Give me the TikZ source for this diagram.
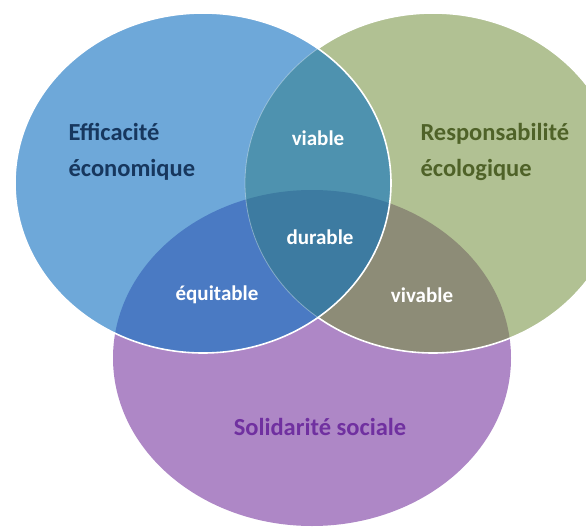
\documentclass[tikz,border=0pt]{standalone}
\usepackage{fontspec}
\setmainfont{Carlito}
\usepackage{tikz}
\usetikzlibrary{positioning}

\definecolor{ecoblue}{HTML}{6EA8D9}
\definecolor{ecogreen}{HTML}{B1C193}
\definecolor{socpurple}{HTML}{AE87C6}
\definecolor{viablecol}{HTML}{4E92AF}
\definecolor{durablecol}{HTML}{3D7BA1}
\definecolor{equitcol}{HTML}{4A7AC3}
\definecolor{vivablecol}{HTML}{8D8C77}
\definecolor{ecotext}{HTML}{17375E}
\definecolor{greentext}{HTML}{4F6228}
\definecolor{purpletext}{HTML}{7030A0}

% the three circles
\newcommand{\ecopath}{(ecoc) ellipse [x radius=188pt, y radius=170pt]}
\newcommand{\envpath}{(envc) ellipse [x radius=188pt, y radius=170pt]}
\newcommand{\socpath}{(socc) ellipse [x radius=199pt, y radius=168pt]}

\begin{document}
\begin{tikzpicture}[x=1pt,y=-1pt,
    bigtext/.style={font=\fontsize{24.5}{36}\selectfont\bfseries, align=left, anchor=west},
    smalltext/.style={font=\fontsize{21}{25}\selectfont\bfseries, text=white},
    rim/.style={draw=white, line width=1.6pt}]
  \useasboundingbox (0,0) rectangle (586,527);
  \coordinate (ecoc) at (203,183);
  \coordinate (envc) at (433,183);
  \coordinate (socc) at (312,358);

  % bottom circle first
  \fill[socpurple] \socpath;
  \fill[ecogreen] \envpath;
  \begin{scope}
    \clip \envpath;
    \fill[vivablecol] \socpath;
  \end{scope}
  \draw[rim] \envpath;

  % blue circle on top
  \fill[ecoblue] \ecopath;
  \begin{scope}
    \clip \ecopath;
    \fill[equitcol] \socpath;
    \fill[viablecol] \envpath;
    \clip \envpath;
    \fill[durablecol] \socpath;
  \end{scope}
  \begin{scope}
    \clip \ecopath;
    \draw[draw=white, opacity=0.35, line width=0.8pt] \envpath;
  \end{scope}
  \draw[rim] \ecopath;

  \draw (65,152) node[bigtext, text=ecotext] (eco) {Efficacité\\économique};
  \draw (417,152) node[bigtext, text=greentext] (env) {Responsabilité\\écologique};
  \draw (320,427) node[bigtext, anchor=center, text=purpletext] (soc) {Solidarité sociale};

  \draw (318,138) node[smalltext] (viable) {viable};
  \draw (320,237) node[smalltext] (durable) {durable};
  \draw (217,295) node[smalltext] (equit) {équitable};
  \draw (422,295) node[smalltext] (vivable) {vivable};
\end{tikzpicture}
\end{document}
